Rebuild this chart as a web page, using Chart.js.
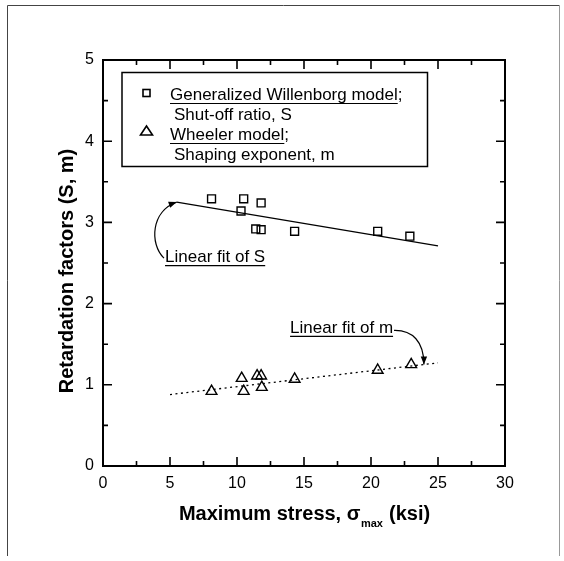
<!DOCTYPE html>
<html>
<head>
<meta charset="utf-8">
<script src="https://cdn.jsdelivr.net/npm/chart.js@4/dist/chart.umd.min.js"></script>
<style>
  html, body { margin: 0; padding: 0; background: #fff; }
  canvas { display: block; }
</style>
</head>
<body>
<canvas id="chart" width="564" height="561"></canvas>
<script>
// Generalized Willenborg model: shut-off ratio S vs. maximum stress (ksi)
const stressS  = [8.1, 10.5, 11.8, 10.3, 11.4, 11.8, 14.3, 20.5, 22.9];
const shutoffS = [3.29, 3.29, 3.24, 3.14, 2.92, 2.91, 2.89, 2.89, 2.83];

// Wheeler model: shaping exponent m vs. maximum stress (ksi)
const stressM   = [8.1, 10.35, 10.5, 11.5, 11.8, 11.85, 14.3, 20.5, 23.0];
const exponentM = [0.92, 1.08, 0.92, 1.11, 1.11, 0.97, 1.07, 1.18, 1.25];

// Linear fits (end points)
const fitSX = [5.5, 25];
const fitSY = [3.25, 2.71];
const fitMX = [5, 25];
const fitMY = [0.88, 1.27];

// Tick values
const xTickValues = [0, 5, 10, 15, 20, 25, 30];
const yTickValues = [0, 1, 2, 3, 4, 5];
const xMinorStep = 2.5;
const yMinorStep = 0.5;

const FONT = '"Liberation Sans", Arial, Helvetica, sans-serif';

const toPoints = (xs, ys) => xs.map((v, i) => ({ x: v, y: ys[i] }));

// Plot box, inward tick marks, axis titles, legend box and fit annotations
const decorations = {
  id: 'decorations',
  afterDraw(chart) {
    const { ctx, chartArea: a, scales: { x, y } } = chart;
    const px = v => x.getPixelForValue(v);
    const py = v => y.getPixelForValue(v);
    ctx.save();

    // outer page frame
    ctx.strokeStyle = '#444';
    ctx.lineWidth = 1;
    ctx.beginPath();
    ctx.moveTo(7.5, 556);
    ctx.lineTo(7.5, 5.5);
    ctx.lineTo(559.5, 5.5);
    ctx.stroke();
    ctx.strokeStyle = '#999';
    ctx.beginPath();
    ctx.moveTo(559.5, 5.5);
    ctx.lineTo(559.5, 556);
    ctx.stroke();

    // plot box
    ctx.strokeStyle = '#000';
    ctx.lineWidth = 2;
    ctx.strokeRect(a.left, a.top, a.right - a.left, a.bottom - a.top);

    // tick marks on all four sides, pointing inward
    ctx.lineWidth = 1.6;
    ctx.beginPath();
    for (let v = x.min; v <= x.max + 1e-9; v += xMinorStep) {
      const major = Math.abs(v / 5 - Math.round(v / 5)) < 1e-6;
      const len = major ? 9 : 5;
      const p = px(v);
      ctx.moveTo(p, a.bottom); ctx.lineTo(p, a.bottom - len);
      ctx.moveTo(p, a.top); ctx.lineTo(p, a.top + len);
    }
    for (let v = y.min; v <= y.max + 1e-9; v += yMinorStep) {
      const major = Math.abs(v - Math.round(v)) < 1e-6;
      const len = major ? 9 : 5;
      const p = py(v);
      ctx.moveTo(a.left, p); ctx.lineTo(a.left + len, p);
      ctx.moveTo(a.right, p); ctx.lineTo(a.right - len, p);
    }
    ctx.stroke();

    ctx.fillStyle = '#000';

    // x axis title with subscript
    const big = 'bold 20px ' + FONT;
    const small = 'bold 11px ' + FONT;
    const part1 = 'Maximum stress, \u03C3';
    const sub = 'max';
    const part2 = ' (ksi)';
    ctx.font = big;
    const w1 = ctx.measureText(part1).width;
    const w3 = ctx.measureText(part2).width;
    ctx.font = small;
    const w2 = ctx.measureText(sub).width;
    const cx = (a.left + a.right) / 2;
    let sx = cx - (w1 + w2 + w3) / 2;
    const base = a.bottom + 54;
    ctx.textAlign = 'left';
    ctx.textBaseline = 'alphabetic';
    ctx.font = big;
    ctx.fillText(part1, sx, base);
    ctx.font = small;
    ctx.fillText(sub, sx + w1 + 0.5, base + 7);
    ctx.font = big;
    ctx.fillText(part2, sx + w1 + w2 + 1, base);

    // y axis title
    ctx.save();
    ctx.translate(a.left - 30, (a.top + a.bottom) / 2 + 8);
    ctx.rotate(-Math.PI / 2);
    ctx.textAlign = 'center';
    ctx.font = big;
    ctx.fillText('Retardation factors (S, m)', 0, 0);
    ctx.restore();

    // legend box
    const L = a.left + 19, T = a.top + 12.5, R = a.left + 324.5, B = a.top + 106.5;
    ctx.lineWidth = 1.5;
    ctx.strokeRect(L, T, R - L, B - T);

    ctx.font = '17px ' + FONT;
    ctx.textAlign = 'left';
    const underline = (text, tx, ty) => {
      const w = ctx.measureText(text).width;
      ctx.lineWidth = 1.2;
      ctx.beginPath();
      ctx.moveTo(tx, ty + 3.5);
      ctx.lineTo(tx + w, ty + 3.5);
      ctx.stroke();
    };
    const tx = L + 48;
    ctx.fillText('Generalized Willenborg model;', tx, T + 27.5);
    underline('Generalized Willenborg model', tx, T + 27.5);
    ctx.fillText('Shut-off ratio, S', tx + 4, T + 47.5);
    ctx.fillText('Wheeler model;', tx, T + 67.5);
    underline('Wheeler model', tx, T + 67.5);
    ctx.fillText('Shaping exponent, m', tx + 4, T + 87.5);

    // legend markers
    ctx.lineWidth = 1.6;
    ctx.strokeRect(L + 21, T + 17, 7, 7);
    ctx.beginPath();
    const mx = L + 24.5, my = T + 58.5;
    ctx.moveTo(mx, my - 5);
    ctx.lineTo(mx + 6, my + 4);
    ctx.lineTo(mx - 6, my + 4);
    ctx.closePath();
    ctx.stroke();

    // annotation: text + curved arrow
    const arrowHead = (x0, y0, x1, y1) => {
      const ang = Math.atan2(y1 - y0, x1 - x0);
      const len = 8, half = 3.2;
      ctx.beginPath();
      ctx.moveTo(x1, y1);
      ctx.lineTo(x1 - len * Math.cos(ang) + half * Math.sin(ang), y1 - len * Math.sin(ang) - half * Math.cos(ang));
      ctx.lineTo(x1 - len * Math.cos(ang) - half * Math.sin(ang), y1 - len * Math.sin(ang) + half * Math.cos(ang));
      ctx.closePath();
      ctx.fill();
    };
    const annotate = (label, lx, ly, curve) => {
      ctx.font = '17px ' + FONT;
      ctx.textAlign = 'left';
      const tX = px(lx), tY = py(ly);
      ctx.fillText(label, tX, tY);
      underline(label, tX, tY);
      const [s, c1, c2, e] = curve.map(p => [px(p[0]), py(p[1])]);
      ctx.lineWidth = 1.2;
      ctx.beginPath();
      ctx.moveTo(s[0], s[1]);
      ctx.bezierCurveTo(c1[0], c1[1], c2[0], c2[1], e[0], e[1]);
      ctx.stroke();
      arrowHead(c2[0], c2[1], e[0], e[1]);
    };
    annotate('Linear fit of S', 4.63, 2.51,
      [[4.55, 2.56], [3.45, 2.74], [3.6, 3.14], [5.5, 3.25]]);
    annotate('Linear fit of m', 13.96, 1.64,
      [[21.72, 1.67], [23.1, 1.675], [23.95, 1.53], [23.95, 1.25]]);

    ctx.restore();
  }
};

new Chart(document.getElementById('chart'), {
  type: 'scatter',
  data: {
    datasets: [
      {
        label: 'Shut-off ratio, S',
        data: toPoints(stressS, shutoffS),
        pointStyle: 'rect',
        pointRadius: 5.6,
        pointBorderWidth: 1.4,
        borderColor: '#000',
        backgroundColor: 'rgba(0,0,0,0)',
        showLine: false
      },
      {
        label: 'Shaping exponent, m',
        data: toPoints(stressM, exponentM),
        pointStyle: 'triangle',
        pointRadius: 6.2,
        pointBorderWidth: 1.4,
        borderColor: '#000',
        backgroundColor: 'rgba(0,0,0,0)',
        showLine: false
      },
      {
        label: 'Linear fit of S',
        data: toPoints(fitSX, fitSY),
        showLine: true,
        pointRadius: 0,
        borderColor: '#000',
        borderWidth: 1.3
      },
      {
        label: 'Linear fit of m',
        data: toPoints(fitMX, fitMY),
        showLine: true,
        pointRadius: 0,
        borderColor: '#000',
        borderWidth: 1.3,
        borderDash: [2, 3.5]
      }
    ]
  },
  options: {
    responsive: false,
    animation: false,
    events: [],
    layout: { padding: { left: 0, top: 60, right: 59, bottom: 0 } },
    plugins: { legend: { display: false }, tooltip: { enabled: false } },
    scales: {
      x: {
        type: 'linear',
        min: 0,
        max: 30,
        afterBuildTicks: s => { s.ticks = xTickValues.map(v => ({ value: v })); },
        afterFit: s => { s.height = 95; },
        grid: { display: false, drawTicks: false },
        border: { display: false },
        ticks: { color: '#000', font: { family: FONT, size: 16 }, padding: 8, maxRotation: 0 }
      },
      y: {
        type: 'linear',
        min: 0,
        max: 5,
        afterBuildTicks: s => { s.ticks = yTickValues.map(v => ({ value: v })); },
        afterFit: s => { s.width = 103; },
        grid: { display: false, drawTicks: false },
        border: { display: false },
        ticks: { color: '#000', font: { family: FONT, size: 16 }, padding: 9 }
      }
    }
  },
  plugins: [decorations]
});
</script>
</body>
</html>
